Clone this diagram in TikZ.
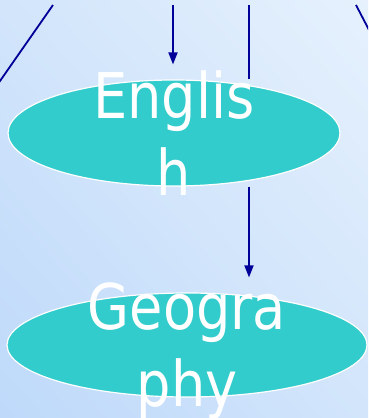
\documentclass[tikz,border=0pt]{standalone}
\usepackage{fontspec}
\newfontfamily\tahomalike[FakeStretch=0.86]{DejaVu Sans}
\usetikzlibrary{arrows.meta, shapes.geometric, shadings}
\definecolor{bgdark}{RGB}{190,217,250}
\definecolor{bgmid}{RGB}{210,229,251}
\definecolor{bglight}{RGB}{230,241,253}
\definecolor{subjteal}{RGB}{51,204,204}
\definecolor{linkblue}{RGB}{0,0,153}

\begin{document}
\begin{tikzpicture}[x=1pt, y=-1pt,
    subject/.style={ellipse, draw=white, line width=1.2pt, fill=subjteal, inner sep=0pt},
    subjtext/.style={text=white, font=\tahomalike\fontsize{63}{77}\selectfont, align=center, inner sep=0pt},
    link/.style={draw=linkblue, line width=1.8pt},
    linkarrow/.style={link, -{Triangle[width=9pt, length=12pt]}, shorten >=15pt}]
                \shade[lower left=bgdark, upper right=bglight, upper left=bgmid, lower right=bgmid] (0,418) rectangle (368,0);
                \useasboundingbox (0,0) rectangle (368,418);
                \clip (0,0) rectangle (368,418);

                \node[subject, minimum width=332pt, minimum height=106pt] (eng) at (174,133) {};
                \node[subject, minimum width=360pt, minimum height=104pt] (geo) at (187,345) {};

                \node[subjtext] (engtxt) at (eng.center) {Englis\\h};
                \node[subjtext, yshift=-6pt] (geotxt) at (geo.center) {Geogra\\phy};

                \coordinate (tl) at (53,5);
                \coordinate (tlout) at (-3,85.3);
                \coordinate (tm) at (173,5);
                \coordinate (tr) at (249,5);
                \coordinate (te) at (356,5);
                \coordinate (teout) at (371,33.8);

                \draw[link] (tl) -- (tlout);
                \draw[linkarrow] (tm) -- (tm |- eng.north);
                \draw[link] (tr) -- (tr |- eng.north);
                \draw[linkarrow] (tr |- eng.south) -- (tr |- geo.north);
                \draw[link] (te) -- (teout);
            \end{tikzpicture}
\end{document}
